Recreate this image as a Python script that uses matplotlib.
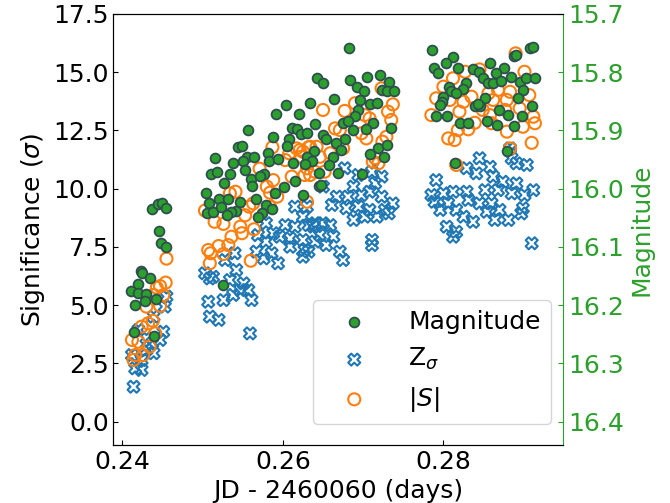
import matplotlib
matplotlib.use("Agg")
import matplotlib.pyplot as plt
import numpy as np

# magnitude (right axis, inverted)
mag_t = [
    0.2437, 0.2444, 0.2450, 0.2455, 0.2446, 0.2448, 0.2454, 0.2423, 0.2425, 0.2434,
    0.2419, 0.2411, 0.2420, 0.2430, 0.2428, 0.2442, 0.2416, 0.2414, 0.2439,
    0.2515, 0.2511, 0.2504, 0.2508, 0.2506, 0.2513, 0.2642, 0.2604, 0.2634, 0.2592,
    0.2620, 0.2557, 0.2611, 0.2617, 0.2623, 0.2630, 0.2640, 0.2588, 0.2608, 0.2544,
    0.2549, 0.2605, 0.2581, 0.2639, 0.2555, 0.2564, 0.2550, 0.2583, 0.2594, 0.2630,
    0.2636, 0.2538, 0.2613, 0.2627, 0.2518, 0.2553, 0.2534, 0.2576, 0.2560, 0.2571,
    0.2527, 0.2562, 0.2601, 0.2615, 0.2590, 0.2625, 0.2645, 0.2521, 0.2532, 0.2546,
    0.2566, 0.2523, 0.2579, 0.2586, 0.2542, 0.2536, 0.2531, 0.2574, 0.2569, 0.2525,
    0.2683, 0.2650, 0.2684, 0.2692, 0.2705, 0.2721, 0.2732, 0.2701, 0.2724, 0.2730,
    0.2738, 0.2664, 0.2696, 0.2708, 0.2717, 0.2694, 0.2690, 0.2675, 0.2681, 0.2712,
    0.2687, 0.2703, 0.2735, 0.2650, 0.2654, 0.2677, 0.2666, 0.2672, 0.2719, 0.2730,
    0.2662, 0.2709, 0.2726, 0.2658, 0.2645, 0.2669, 0.2698, 0.2647,
    0.2786, 0.2812, 0.2888, 0.2891, 0.2908, 0.2912, 0.2803, 0.2858, 0.2788, 0.2793,
    0.2818, 0.2837, 0.2844, 0.2876, 0.2865, 0.2849, 0.2856, 0.2862, 0.2872, 0.2884,
    0.2895, 0.2903, 0.2914, 0.2828, 0.2807, 0.2824, 0.2810, 0.2816, 0.2899, 0.2800,
    0.2798, 0.2852, 0.2893, 0.2796, 0.2839, 0.2846, 0.2843, 0.2869, 0.2910, 0.2791,
    0.2805, 0.2881, 0.2898, 0.2821, 0.2831, 0.2854, 0.2867, 0.2888, 0.2879, 0.2814,
]
mag = [
    16.035, 16.027, 16.025, 16.033, 16.073, 16.093, 16.100, 16.141, 16.144, 16.153,
    16.164, 16.176, 16.179, 16.180, 16.192, 16.189, 16.199, 16.246, 16.252,
    15.948, 15.974, 16.008, 16.024, 16.042, 16.040, 15.810, 15.856, 15.852, 15.872,
    15.872, 15.899, 15.896, 15.898, 15.906, 15.904, 15.889, 15.912, 15.914, 15.928,
    15.926, 15.927, 15.938, 15.935, 15.946, 15.946, 15.952, 15.952, 15.949, 15.945,
    15.952, 15.956, 15.956, 15.958, 15.971, 15.968, 15.975, 15.974, 15.983, 15.978,
    15.991, 15.995, 15.997, 15.987, 16.007, 16.010, 15.995, 16.017, 16.018, 16.022,
    16.017, 16.031, 16.028, 16.034, 16.038, 16.040, 16.045, 16.041, 16.048, 16.166,
    15.759, 15.819, 15.813, 15.825, 15.809, 15.805, 15.816, 15.832, 15.831, 15.833,
    15.833, 15.846, 15.847, 15.855, 15.852, 15.864, 15.875, 15.887, 15.884, 15.887,
    15.899, 15.898, 15.896, 15.908, 15.914, 15.915, 15.922, 15.934, 15.930, 15.925,
    15.945, 15.941, 15.945, 15.959, 15.973, 15.973, 15.974, 15.994,
    15.761, 15.773, 15.772, 15.770, 15.759, 15.757, 15.785, 15.784, 15.793, 15.802,
    15.793, 15.795, 15.799, 15.793, 15.802, 15.810, 15.818, 15.818, 15.815, 15.809,
    15.816, 15.810, 15.810, 15.819, 15.826, 15.829, 15.833, 15.836, 15.831, 15.842,
    15.851, 15.845, 15.845, 15.856, 15.858, 15.858, 15.855, 15.864, 15.858, 15.875,
    15.876, 15.873, 15.875, 15.887, 15.887, 15.883, 15.891, 15.892, 15.936, 15.955,
]

# Z_sigma significance
z_t = [
    0.2455, 0.2453, 0.2439, 0.2451, 0.2447, 0.2437, 0.2430, 0.2412, 0.2424, 0.2416,
    0.2424, 0.2414, 0.2439, 0.2420, 0.2430,
    0.2503, 0.2509, 0.2507, 0.2509, 0.2615, 0.2625, 0.2603, 0.2615, 0.2632, 0.2640,
    0.2579, 0.2588, 0.2569, 0.2596, 0.2609, 0.2579, 0.2609, 0.2627, 0.2625, 0.2567,
    0.2586, 0.2576, 0.2594, 0.2540, 0.2528, 0.2542, 0.2513, 0.2534, 0.2551, 0.2547,
    0.2557, 0.2538, 0.2526, 0.2561, 0.2520, 0.2559,
    0.2677, 0.2694, 0.2711, 0.2723, 0.2688, 0.2715, 0.2667, 0.2681, 0.2698, 0.2708,
    0.2723, 0.2737, 0.2661, 0.2679, 0.2694, 0.2708, 0.2727, 0.2688, 0.2702, 0.2717,
    0.2732, 0.2650, 0.2630, 0.2638, 0.2650, 0.2659, 0.2646, 0.2663, 0.2625, 0.2640,
    0.2654, 0.2632, 0.2671, 0.2675, 0.2711, 0.2711,
    0.2845, 0.2883, 0.2885, 0.2891, 0.2904, 0.2829, 0.2858, 0.2791, 0.2841, 0.2862,
    0.2874, 0.2891, 0.2912, 0.2785, 0.2800, 0.2812, 0.2829, 0.2852, 0.2868, 0.2885,
    0.2901, 0.2789, 0.2806, 0.2831, 0.2845, 0.2860, 0.2796, 0.2816, 0.2854, 0.2870,
    0.2899, 0.2825, 0.2864, 0.2881, 0.2897, 0.2837, 0.2804, 0.2816, 0.2812, 0.2910,
]
z_sig = [
    5.37, 4.94, 4.51, 3.86, 3.51, 3.36, 3.08, 2.86, 2.65, 2.29,
    2.22, 1.50, 2.94, 3.94, 3.59,
    6.37, 6.15, 5.15, 4.51, 9.23, 8.80, 8.44, 8.37, 8.44, 8.52,
    8.52, 8.09, 8.01, 7.94, 7.87, 7.73, 7.51, 7.37, 7.08, 7.30,
    7.23, 7.01, 6.80, 7.23, 6.94, 6.51, 6.22, 6.08, 5.94, 5.65,
    5.65, 5.44, 5.22, 5.22, 4.37, 3.79,
    10.88, 10.59, 10.73, 10.52, 10.09, 10.23, 9.66, 9.66, 9.73, 9.87,
    9.66, 9.37, 9.30, 9.16, 9.23, 9.09, 9.09, 8.66, 8.80, 8.80,
    8.94, 10.09, 9.23, 8.37, 8.52, 8.44, 8.01, 7.94, 7.80, 7.73,
    7.58, 7.30, 7.30, 6.94, 7.80, 7.58,
    11.31, 11.73, 11.31, 11.09, 11.02, 10.88, 10.94, 10.37, 10.66, 10.52,
    10.30, 10.23, 9.94, 9.73, 9.80, 9.87, 9.87, 9.94, 9.94, 9.80,
    9.73, 9.44, 9.37, 9.52, 9.37, 9.37, 9.09, 9.09, 9.01, 9.09,
    9.16, 8.80, 8.66, 8.66, 8.94, 8.58, 8.37, 8.15, 7.94, 7.66,
]

# |S| significance
s_t = [
    0.2455, 0.2454, 0.2447, 0.2443, 0.2451, 0.2439, 0.2430, 0.2447, 0.2438, 0.2432,
    0.2424, 0.2441, 0.2412, 0.2420, 0.2434, 0.2426, 0.2416, 0.2414,
    0.2507, 0.2509, 0.2503, 0.2650, 0.2587, 0.2617, 0.2621, 0.2632, 0.2608, 0.2603,
    0.2623, 0.2571, 0.2588, 0.2611, 0.2627, 0.2634, 0.2541, 0.2534, 0.2580, 0.2584,
    0.2593, 0.2630, 0.2558, 0.2563, 0.2584, 0.2553, 0.2515, 0.2526, 0.2564, 0.2547,
    0.2549, 0.2536, 0.2532, 0.2520, 0.2510, 0.2526, 0.2560,
    0.2677, 0.2690, 0.2723, 0.2737, 0.2731, 0.2735, 0.2702, 0.2708, 0.2665, 0.2671,
    0.2698, 0.2704, 0.2729, 0.2724, 0.2634, 0.2642, 0.2675, 0.2659, 0.2646, 0.2625,
    0.2630, 0.2640, 0.2652, 0.2715, 0.2712, 0.2719,
    0.2890, 0.2845, 0.2827, 0.2812, 0.2901, 0.2800, 0.2791, 0.2856, 0.2868, 0.2883,
    0.2907, 0.2825, 0.2835, 0.2862, 0.2879, 0.2808, 0.2785, 0.2820, 0.2849, 0.2858,
    0.2877, 0.2895, 0.2912, 0.2914, 0.2860, 0.2839, 0.2831, 0.2818, 0.2879, 0.2899,
    0.2806, 0.2814, 0.2910, 0.2883, 0.2816,
]
s_abs = [
    7.00, 5.97, 5.82, 5.75, 5.43, 5.44, 4.94, 4.97, 4.33, 4.22,
    4.08, 3.79, 3.51, 3.43, 3.22, 2.86, 2.86, 2.65,
    7.37, 6.80, 9.06, 13.38, 11.78, 11.73, 11.66, 11.78, 11.52, 11.23,
    11.37, 10.86, 10.37, 10.52, 10.59, 10.59, 9.87, 9.80, 10.09, 9.83,
    9.66, 9.44, 9.23, 9.37, 9.23, 8.86, 8.58, 8.49, 8.26, 8.37,
    8.09, 7.94, 7.58, 7.54, 7.23, 7.20, 6.91,
    13.34, 13.67, 14.31, 13.62, 13.31, 12.95, 13.16, 13.02, 12.59, 12.52,
    12.38, 12.16, 12.23, 12.02, 11.80, 11.80, 11.73, 11.52, 11.37, 11.59,
    10.88, 10.73, 10.73, 11.31, 11.16, 11.09,
    15.81, 15.12, 15.02, 14.74, 15.02, 14.38, 13.88, 14.09, 14.24, 14.16,
    14.02, 13.73, 13.95, 13.81, 13.81, 13.81, 13.16, 13.31, 13.38, 13.16,
    13.38, 13.45, 13.09, 12.81, 12.81, 12.83, 12.55, 12.52, 12.45, 12.66,
    12.16, 12.09, 11.97, 11.73, 11.02,
]

green = "#2ca02c"
plt.rcParams["font.size"] = 18

fig = plt.figure(figsize=(6.7, 5.03), dpi=100)
ax = fig.add_axes([0.1694, 0.1153, 0.6709, 0.8569])
ax2 = ax.twinx()

hz = ax.scatter(z_t, z_sig, marker="X", s=75, facecolors="none",
                edgecolors="tab:blue", linewidths=1.5, label=r"Z$_\sigma$")
hs = ax.scatter(s_t, s_abs, marker="o", s=75, facecolors="none",
                edgecolors="tab:orange", linewidths=1.5, label=r"$|S|$")
hm = ax2.scatter(mag_t, mag, marker="o", s=50, facecolors=green,
                 edgecolors="darkslategray", linewidths=1.3, label="Magnitude")

ax.set_xlim(0.2389, 0.2949)
ax.set_ylim(-1, 17.5)
ax2.set_ylim(16.44, 15.7)

ax.set_xticks([0.24, 0.26, 0.28])
ax.set_yticks(np.arange(0, 17.6, 2.5))
ax2.set_yticks(np.arange(15.7, 16.45, 0.1))
ax2.set_yticklabels(["%.1f" % v for v in np.arange(15.7, 16.45, 0.1)])

ax.tick_params(direction="in", labelsize=18)
ax2.tick_params(direction="in", labelsize=18, colors=green)
ax.spines["right"].set_visible(False)
ax2.spines["right"].set_color(green)

ax.set_xlabel("JD - 2460060 (days)", fontsize=18)
ax.set_ylabel(r"Significance ($\sigma$)", fontsize=18)
ax2.set_ylabel("Magnitude", fontsize=18, color=green)

ax2.legend([hm, hz, hs], ["Magnitude", r"Z$_\sigma$", r"$|S|$"],
           loc="lower right", fontsize=18, bbox_to_anchor=(1.0, 0.02),
           handlelength=2.5, handletextpad=0.9)

fig.savefig("out.png", dpi=100)
